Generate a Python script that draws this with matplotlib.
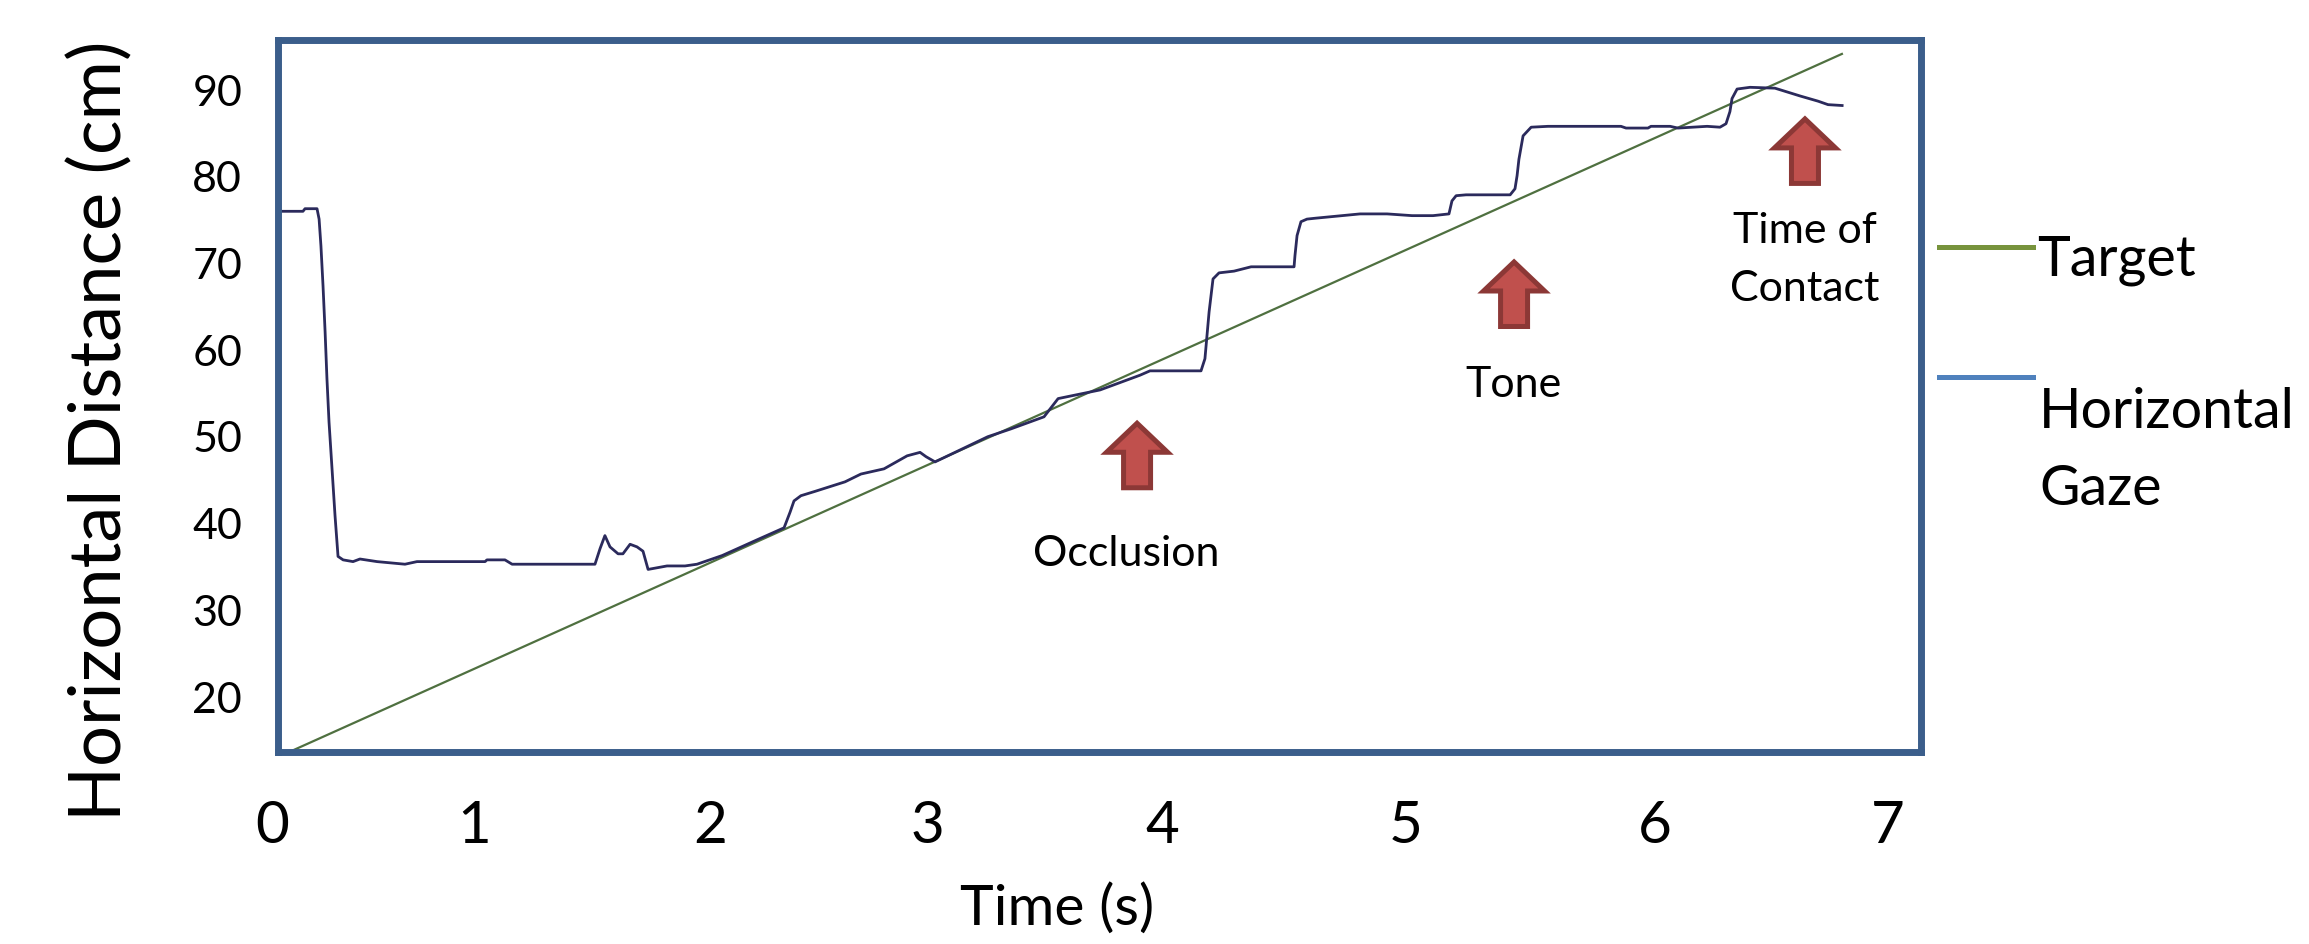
import matplotlib
matplotlib.use("Agg")
import matplotlib.pyplot as plt
import matplotlib.transforms as mtransforms
from matplotlib.patches import Polygon
from matplotlib.lines import Line2D

plt.rcParams['font.family'] = ['Lato', 'DejaVu Sans']

# data
target_t = [0.0, 6.80]
target_v = [12.65, 94.05]

gaze_t = [0.0, 0.134, 0.143, 0.195, 0.204, 0.212, 0.221, 0.230, 0.238, 0.247,
          0.260, 0.273, 0.286, 0.308, 0.351, 0.381, 0.455, 0.576, 0.628, 0.923,
          0.931, 1.009, 1.040, 1.399, 1.421, 1.442, 1.464, 1.499, 1.520, 1.551,
          1.581, 1.607, 1.629, 1.711, 1.789, 1.841, 1.95, 2.10, 2.218, 2.244,
          2.261, 2.291, 2.352, 2.482, 2.551, 2.651, 2.751, 2.807, 2.833, 2.872,
          3.10, 3.20, 3.344, 3.405, 3.587, 3.760, 3.803, 4.024, 4.041, 4.059,
          4.076, 4.102, 4.167, 4.241, 4.427, 4.431, 4.440, 4.457, 4.483, 4.518,
          4.713, 4.830, 4.938, 5.029, 5.098, 5.111, 5.129, 5.172, 5.363, 5.384,
          5.393, 5.401, 5.419, 5.454, 5.527, 5.843, 5.865, 5.960, 5.973, 6.056,
          6.090, 6.216, 6.272, 6.298, 6.315, 6.324, 6.346, 6.402, 6.510, 6.619,
          6.697, 6.740, 6.801]
gaze_v = [75.9, 75.9, 76.2, 76.2, 75.0, 71.9, 67.3, 62.0, 56.6, 51.6,
          46.2, 40.8, 36.1, 35.7, 35.5, 35.8, 35.5, 35.2, 35.5, 35.5,
          35.7, 35.7, 35.2, 35.2, 37.0, 38.5, 37.2, 36.4, 36.4, 37.5,
          37.2, 36.7, 34.6, 35.0, 35.0, 35.2, 36.2, 38.0, 39.4, 41.2,
          42.5, 43.1, 43.6, 44.7, 45.6, 46.2, 47.7, 48.1, 47.6, 47.0,
          49.9, 50.8, 52.2, 54.3, 55.3, 57.0, 57.5, 57.5, 58.9, 64.3,
          68.1, 68.8, 69.0, 69.5, 69.5, 70.8, 73.1, 74.7, 75.0, 75.1,
          75.6, 75.6, 75.4, 75.4, 75.6, 77.1, 77.7, 77.8, 77.8, 78.5,
          80.0, 81.9, 84.6, 85.6, 85.7, 85.7, 85.5, 85.5, 85.7, 85.7,
          85.5, 85.7, 85.6, 86.0, 87.4, 88.9, 90.0, 90.2, 90.1, 89.2,
          88.6, 88.2, 88.1]

# tick labels (the time labels are not evenly spaced in the original)
xtick_pos = [0.0, 0.875, 1.90, 2.84, 3.855, 4.91, 5.99, 7.0]
xtick_labels = ['0', '1', '2', '3', '4', '5', '6', '7']
yticks = [20, 30, 40, 50, 60, 70, 80, 90]

# events: (label lines, arrow tip time, arrow tip value, text time, text baselines)
events = [
    (['Occlusion'], 3.747, 51.8, 3.699, [35.1]),
    (['Tone'], 5.380, 70.4, 5.376, [54.6]),
    (['Time of', 'Contact'], 6.640, 86.9, 6.640, [72.4, 65.7]),
]

box_color = '#3B5E8B'
green = '#77933C'
blue = '#4F81BD'

fig = plt.figure(figsize=(23.09, 9.45), dpi=100)
ax = fig.add_axes([0.1202, 0.2037, 0.7116, 0.7524])

ax.plot(target_t, target_v, color='#4F7040', lw=1.6, zorder=2)
ax.plot(gaze_t, gaze_v, color='#2B2A5C', lw=2.0, zorder=3)

ax.set_xlim(0.024, 7.141)
ax.set_ylim(13.6, 95.6)

for sp in ax.spines.values():
    sp.set_color(box_color)
    sp.set_linewidth(5.0)
    sp.set_capstyle('projecting')
    sp.set_zorder(5)

ax.set_xticks([])
ax.set_yticks(yticks)
ax.tick_params(axis='y', length=0, pad=25.5, labelsize=31)

for p, lab in zip(xtick_pos, xtick_labels):
    ax.text(p, -0.1273, lab, transform=ax.get_xaxis_transform(),
            ha='center', va='baseline', fontsize=42)

# block arrows, shape in inches relative to the tip
arrow_shape = [(0, -0.03), (0.305, -0.32), (0.135, -0.32), (0.135, -0.675),
               (-0.135, -0.675), (-0.135, -0.32), (-0.305, -0.32)]
for lines, at, av, tt, tb in events:
    trans = fig.dpi_scale_trans + mtransforms.ScaledTranslation(at, av, ax.transData)
    ax.add_patch(Polygon(arrow_shape, closed=True, transform=trans,
                         facecolor='#C0504D', edgecolor='#8C3836', lw=3.6,
                         joinstyle='miter', clip_on=False, zorder=4))
    for line, b in zip(lines, tb):
        ax.text(tt, b, line, ha='center', va='baseline', fontsize=31)

fig.text(0.0433, 0.544, 'Horizontal Distance (cm)', rotation=90,
         ha='center', va='center', fontsize=52)
fig.text(1057 / 2309, 1 - 925 / 945, 'Time (s)', ha='center', va='baseline',
         fontsize=41)

# legend drawn by hand, like the original
fig.add_artist(Line2D([1939 / 2309, 2033 / 2309], [1 - 248 / 945] * 2,
                      color=green, lw=3.6))
fig.add_artist(Line2D([1939 / 2309, 2033 / 2309], [1 - 378 / 945] * 2,
                      color=blue, lw=3.6))
fig.text(2037 / 2309, 1 - 276 / 945, 'Target', ha='left', va='baseline', fontsize=40)
fig.text(2039 / 2309, 1 - 428 / 945, 'Horizontal', ha='left', va='baseline', fontsize=40)
fig.text(2039 / 2309, 1 - 505 / 945, 'Gaze', ha='left', va='baseline', fontsize=40)

fig.savefig('out.png', dpi=100, facecolor='white')
